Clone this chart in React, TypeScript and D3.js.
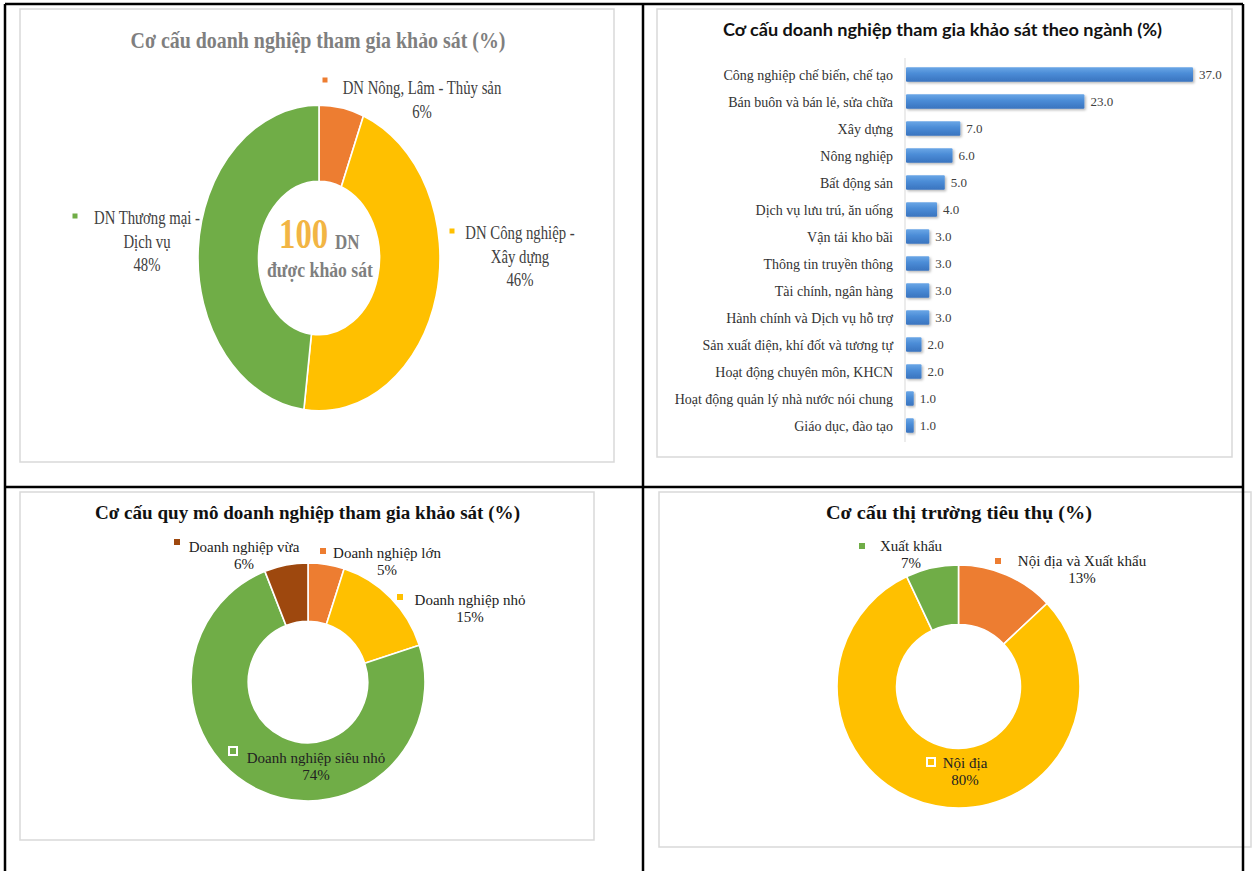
import React from 'react';
import * as d3 from 'd3';

const W = 1254;
const H = 871;
const SERIF = '"Liberation Serif", "Times New Roman", serif';
const SANS = 'Lato, "Open Sans", "Noto Sans", sans-serif';

// ---------- Data ----------
// Panel 1: enterprise groups
const sectorGroups = ['DN Nông, Lâm - Thủy sản', 'DN Công nghiệp - Xây dựng', 'DN Thương mại - Dịch vụ'];
const sectorShares = [6, 46, 48];
const sectorTotal = 100;

// Panel 2: industries
const industries = [
  'Công nghiệp chế biến, chế tạo',
  'Bán buôn và bán lẻ, sửa chữa',
  'Xây dựng',
  'Nông nghiệp',
  'Bất động sản',
  'Dịch vụ lưu trú, ăn uống',
  'Vận tải kho bãi',
  'Thông tin truyền thông',
  'Tài chính, ngân hàng',
  'Hành chính và Dịch vụ hỗ trợ',
  'Sản xuất điện, khí đốt và tương tự',
  'Hoạt động chuyên môn, KHCN',
  'Hoạt động quản lý nhà nước nói chung',
  'Giáo dục, đào tạo',
];
const industryShares = [37, 23, 7, 6, 5, 4, 3, 3, 3, 3, 2, 2, 1, 1];

// Panel 3: enterprise size
const sizeGroups = ['Doanh nghiệp lớn', 'Doanh nghiệp nhỏ', 'Doanh nghiệp siêu nhỏ', 'Doanh nghiệp vừa'];
const sizeShares = [5, 15, 74, 6];

// Panel 4: markets
const marketGroups = ['Nội địa và Xuất khẩu', 'Nội địa', 'Xuất khẩu'];
const marketShares = [13, 80, 7];

// ---------- Styles / layout ----------
const ORANGE = '#ED7D31';
const YELLOW = '#FFC000';
const GREEN = '#70AD47';
const BROWN = '#9E480E';
const sectorColors = [ORANGE, YELLOW, GREEN];
const sizeColors = [ORANGE, YELLOW, GREEN, BROWN];
const marketColors = [ORANGE, YELLOW, GREEN];

type LabelLayout = { x: number; y: number; mx: number; my: number; wrap?: boolean; hollow?: boolean };

const sectorLabelLayout: LabelLayout[] = [
  { x: 422, y: 94, mx: 325, my: 80 },
  { x: 520, y: 239, mx: 452, my: 231, wrap: true },
  { x: 147, y: 224, mx: 75, my: 216, wrap: true },
];
const sizeLabelLayout: LabelLayout[] = [
  { x: 387, y: 558, mx: 323, my: 551 },
  { x: 470, y: 605, mx: 400, my: 597 },
  { x: 316, y: 763, mx: 233, my: 751, hollow: true },
  { x: 244, y: 552, mx: 177, my: 542 },
];
const marketLabelLayout: LabelLayout[] = [
  { x: 1082, y: 566, mx: 998, my: 561 },
  { x: 965, y: 768, mx: 931, my: 762, hollow: true },
  { x: 911, y: 551, mx: 862, my: 546 },
];

function Txt(props: {
  x: number; y: number; children: React.ReactNode; size?: number; weight?: string | number;
  fill?: string; anchor?: 'start' | 'middle' | 'end'; sx?: number; family?: string; w?: number;
}) {
  const { x, y, children, size = 14, weight = 'normal', fill = '#333', anchor = 'middle', sx = 1, family = SERIF, w } = props;
  return (
    <text
      transform={`translate(${x},${y}) scale(${sx},1)`}
      fontSize={size}
      fontWeight={weight}
      fill={fill}
      textAnchor={anchor}
      fontFamily={family}
      textLength={w}
      lengthAdjust={w ? 'spacingAndGlyphs' : undefined}
    >
      {children}
    </text>
  );
}

function Donut(props: { cx: number; cy: number; rx: number; ry: number; inner: number; values: number[]; colors: string[] }) {
  const { cx, cy, rx, ry, inner, values, colors } = props;
  const pie = d3.pie<number>().sort(null).value((d) => d)(values);
  const arc = d3.arc<d3.PieArcDatum<number>>().innerRadius(rx * inner).outerRadius(rx);
  return (
    <g transform={`translate(${cx},${cy}) scale(1,${ry / rx})`}>
      {pie.map((p, i) => (
        <path key={i} d={arc(p) || ''} fill={colors[i]} stroke="#fff" strokeWidth={1.6} />
      ))}
    </g>
  );
}

function Labels(props: {
  names: string[]; values: number[]; colors: string[]; layout: LabelLayout[];
  size: number; sx?: number; gap: number; fill: string; marker: number;
}) {
  const { names, values, colors, layout, size, sx = 1, gap, fill, marker } = props;
  return (
    <g>
      {names.map((name, i) => {
        const L = layout[i];
        const lines = L.wrap ? (() => { const k = name.indexOf(' - '); return [name.slice(0, k) + ' -', name.slice(k + 3)]; })() : [name];
        lines.push(`${values[i]}%`);
        return (
          <g key={i}>
            {L.hollow ? (
              <rect x={L.mx - 4} y={L.my - 4} width={8} height={8} fill={colors[i]} stroke="#fff" strokeWidth={2} />
            ) : (
              <rect x={L.mx - marker / 2} y={L.my - marker / 2} width={marker} height={marker} fill={colors[i]} />
            )}
            {lines.map((ln, j) => (
              <Txt key={j} x={L.x} y={L.y + j * gap} size={size} sx={sx} fill={fill}>{ln}</Txt>
            ))}
          </g>
        );
      })}
    </g>
  );
}

function BarChart() {
  const x0 = 905;
  const x = d3.scaleLinear().domain([0, d3.max(industryShares) as number]).range([x0, 1192]);
  const y = d3.scaleBand<string>().domain(industries).range([61, 439]).paddingInner(0.47).paddingOuter(0.235);
  const fmt = d3.format('.1f');
  return (
    <g>
      <defs>
        <linearGradient id="barGrad" x1="0" y1="0" x2="0" y2="1">
          <stop offset="0" stopColor="#6aa6e6" />
          <stop offset="0.45" stopColor="#4a8bd6" />
          <stop offset="1" stopColor="#3a74bf" />
        </linearGradient>
        <filter id="barShadow" x="-10%" y="-30%" width="130%" height="190%">
          <feDropShadow dx="1.5" dy="1.5" stdDeviation="1.3" floodColor="#000" floodOpacity="0.28" />
        </filter>
      </defs>
      <line x1={x0} x2={x0} y1={58} y2={442} stroke="#d9d9d9" strokeWidth={1} />
      {industries.map((c, i) => {
        const yy = y(c) as number;
        const bw = y.bandwidth();
        return (
          <g key={c}>
            <rect x={x0 + 1} y={yy} width={x(industryShares[i]) - x0} height={bw} fill="url(#barGrad)" rx={1} filter="url(#barShadow)" />
            <Txt x={893} y={yy + bw / 2 + 5} anchor="end" size={14} fill="#333">{c}</Txt>
            <Txt x={x(industryShares[i]) + 7} y={yy + bw / 2 + 4.5} anchor="start" size={13} fill="#404040">{fmt(industryShares[i])}</Txt>
          </g>
        );
      })}
    </g>
  );
}

export default function App() {
  return (
    <svg
      width={W}
      height={H}
      viewBox={`0 0 ${W} ${H}`}
      style={{ position: 'absolute', left: 0, top: 0, background: '#fff' }}
    >
      <rect x={0} y={0} width={W} height={H} fill="#fff" />

      {/* chart boxes */}
      <rect x={20} y={9} width={594} height={453} fill="#fff" stroke="#d9d9d9" strokeWidth={1.5} />
      <rect x={657} y={9} width={575} height={448} fill="#fff" stroke="#d9d9d9" strokeWidth={1.5} />
      <rect x={20} y={492} width={574} height={348} fill="#fff" stroke="#d9d9d9" strokeWidth={1.5} />
      <rect x={659} y={492} width={592} height={355} fill="#fff" stroke="#d9d9d9" strokeWidth={1.5} />

      {/* Panel 1 */}
      <Txt x={318} y={48} size={24} weight="bold" fill="#7f7f7f" w={375}>Cơ cấu doanh nghiệp tham gia khảo sát (%)</Txt>
      <Donut cx={319} cy={258} rx={121} ry={153} inner={0.5} values={sectorShares} colors={sectorColors} />
      <Labels names={sectorGroups} values={sectorShares} colors={sectorColors} layout={sectorLabelLayout} size={18} sx={0.82} gap={23.5} fill="#404040" marker={5} />
      <Txt x={279} y={248} anchor="start" size={42} weight="bold" fill="#F2B544" sx={0.78}>{String(sectorTotal)}</Txt>
      <Txt x={335} y={249} anchor="start" size={20} weight="bold" fill="#7f7f7f" sx={0.85}>DN</Txt>
      <Txt x={320} y={277} size={22} weight="bold" fill="#7f7f7f" w={106}>được khảo sát</Txt>

      {/* Panel 2 */}
      <Txt x={942.5} y={36} size={16.5} weight="bold" fill="#111" family={SANS} w={439}>Cơ cấu doanh nghiệp tham gia khảo sát theo ngành (%)</Txt>
      <BarChart />

      {/* Panel 3 */}
      <Txt x={307.5} y={519} size={18} weight="bold" fill="#111" w={425}>Cơ cấu quy mô doanh nghiệp tham gia khảo sát (%)</Txt>
      <Donut cx={308} cy={682} rx={117} ry={119} inner={0.51} values={sizeShares} colors={sizeColors} />
      <Labels names={sizeGroups} values={sizeShares} colors={sizeColors} layout={sizeLabelLayout} size={15} gap={17} fill="#222" marker={6} />

      {/* Panel 4 */}
      <Txt x={959} y={519} size={18} weight="bold" fill="#111" w={266}>Cơ cấu thị trường tiêu thụ (%)</Txt>
      <Donut cx={958.5} cy={686.5} rx={121.5} ry={121.5} inner={0.51} values={marketShares} colors={marketColors} />
      <Labels names={marketGroups} values={marketShares} colors={marketColors} layout={marketLabelLayout} size={15} gap={17} fill="#222" marker={6} />

      {/* black grid */}
      <g stroke="#000" strokeWidth={2.5}>
        <line x1={5} x2={1243} y1={4} y2={4} />
        <line x1={5} x2={5} y1={4} y2={H} />
        <line x1={643} x2={643} y1={4} y2={H} />
        <line x1={1243} x2={1243} y1={4} y2={H} />
        <line x1={5} x2={1243} y1={487} y2={487} />
      </g>
    </svg>
  );
}
